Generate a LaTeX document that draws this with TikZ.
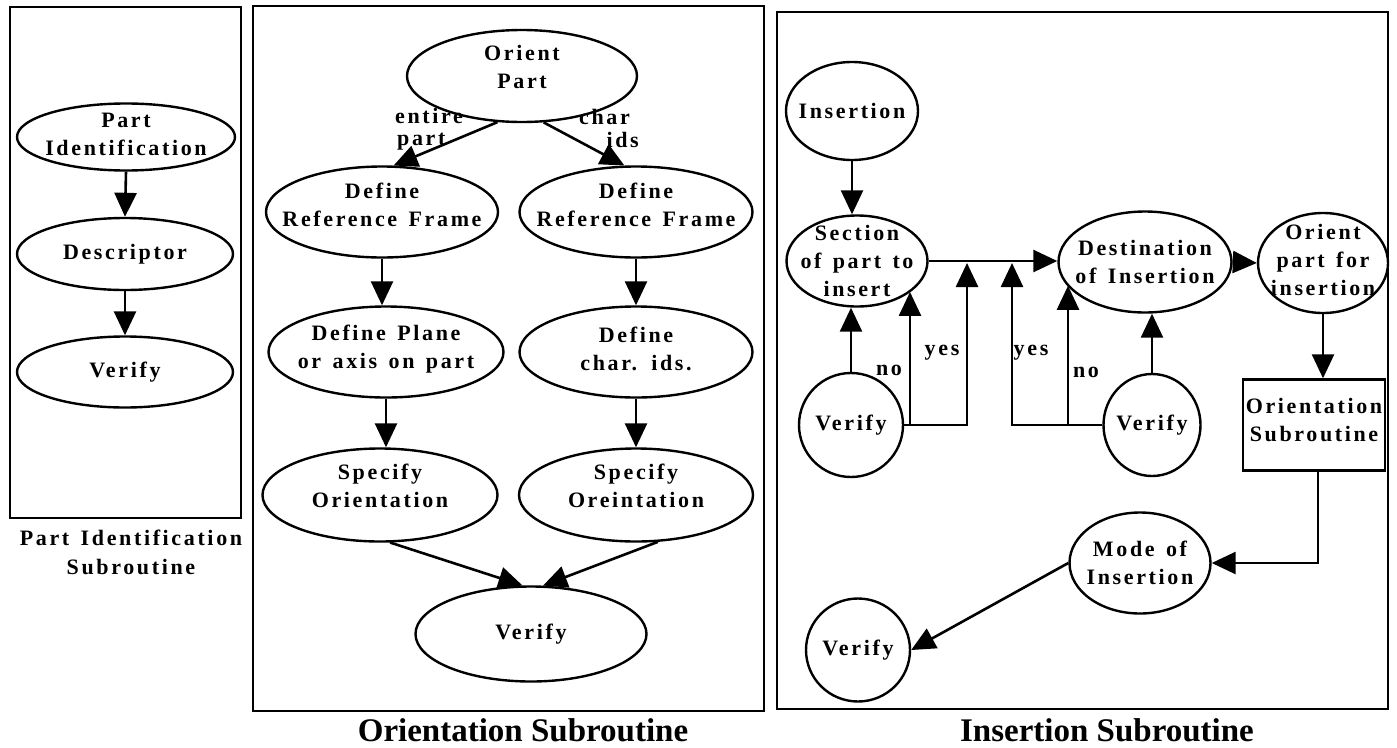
\documentclass[tikz,border=0pt]{standalone}
\usepackage{fontspec}
\setmainfont{Liberation Serif}
\newfontfamily\lblfont[LetterSpace=12,WordSpace=1.4]{Liberation Serif}
\usetikzlibrary{arrows.meta,shapes.geometric}
\tikzset{
  ell/.style={draw, ellipse, line width=2.4pt, inner sep=0pt},
  sbox/.style={draw, rectangle, line width=2.4pt, inner sep=0pt},
  frm/.style={draw, line width=2.6pt},
  txt/.style={align=center, font=\lblfont\bfseries\fontsize{22}{28}\selectfont, inner sep=0pt},
  captxt/.style={align=center, font=\bfseries\fontsize{33}{36}\selectfont, inner sep=0pt},
  arr/.style={line width=2.6pt, -{Triangle[length=24pt,width=22pt]}},
  up/.style={yshift=#1}
}
\begin{document}
\begin{tikzpicture}[x=1pt,y=-1pt]
\useasboundingbox (0,0) rectangle (1397,747);
% frames
\draw[frm] (10,7) rectangle (241,518);
\draw[frm] (253,6) rectangle (764,711);
\draw[frm] (777,12) rectangle (1388,709);
% captions
\node[txt, font=\lblfont\bfseries\fontsize{22}{29}\selectfont] (cap1) at (131,552) {Part Identification\\Subroutine};
\node[captxt] (cap2) at (523,730) {Orientation Subroutine};
\node[captxt] (cap3) at (1107,730) {Insertion Subroutine};

% ---- left panel
\node[ell, minimum width=218pt, minimum height=67pt] (pi) at (126,137) {};
\node[txt, up=3pt] (pit) at (pi) {Part\\Identification};
\node[ell, minimum width=216pt, minimum height=72pt] (de) at (125,254) {};
\node[txt] (det) at (de) {Descriptor};
\node[ell, minimum width=216pt, minimum height=71pt] (v0) at (125,372) {};
\node[txt] (v0t) at (v0) {Verify};
\draw[arr] (pi.south) -- (de.north);
\draw[arr] (de.south) -- (v0.north);

% ---- middle panel
\node[ell, minimum width=230pt, minimum height=92pt] (op) at (522,76) {};
\node[txt, up=9pt] (opt) at (op) {Orient\\Part};
\node[ell, minimum width=232pt, minimum height=91pt] (drl) at (382,212) {};
\node[txt, up=7pt] (drlt) at (drl) {Define\\Reference Frame};
\node[ell, minimum width=233pt, minimum height=91pt] (drr) at (636,212) {};
\node[txt, up=7pt] (drrt) at (drr) {Define\\Reference Frame};
\node[ell, minimum width=235pt, minimum height=91pt] (dpl) at (386,352) {};
\node[txt, up=3pt] (dplt) at (dpl) {Define Plane\\or axis on part};
\node[ell, minimum width=233pt, minimum height=91pt] (dci) at (636,352) {};
\node[txt, up=3pt] (dcit) at (dci) {Define\\char. ids.};
\node[ell, minimum width=235pt, minimum height=93pt] (sol) at (380,495) {};
\node[txt, up=9pt] (solt) at (sol) {Specify\\Orientation};
\node[ell, minimum width=234pt, minimum height=93pt] (sor) at (636,495) {};
\node[txt, up=9pt] (sort) at (sor) {Specify\\Oreintation};
\node[ell, minimum width=231pt, minimum height=95pt] (vo) at (531,634) {};
\node[txt] (vot) at (vo) {Verify};

\draw[arr] (op.242) -- (drl.76);
\draw[arr] (op.295) -- (drr.104);
\node[txt, anchor=west] (lent) at (395,116) {entire};
\node[txt, anchor=west] (lpart) at (397,142) {part};
\node[txt, anchor=east] (lchar) at (630,117) {char};
\node[txt, anchor=east] (lids) at (639,140) {ids};
\draw[arr] (drl.south) -- (drl.south |- dpl.north);
\draw[arr] (drr.south) -- (dci.north);
\draw[arr] (dpl.south) -- (dpl.south |- sol.north);
\draw[arr] (dci.south) -- (sor.north);
\draw[arr] (sol.282) -- (vo.100);
\draw[arr] (sor.295) -- (vo.76);

% ---- right panel
\node[ell, minimum width=132pt, minimum height=98pt] (ins) at (852,111) {};
\node[txt] (inst) at (ins) {Insertion};
\node[ell, minimum width=141pt, minimum height=91pt] (sec) at (857,261) {};
\node[txt] (sect) at (sec) {Section\\of part to\\insert};
\node[ell, minimum width=173pt, minimum height=101pt] (dst) at (1145,262) {};
\node[txt] (dstt) at (dst) {Destination\\of Insertion};
\node[ell, minimum width=130pt, minimum height=100pt] (oi) at (1323,263) {};
\node[txt, up=3pt] (oit) at (oi) {Orient\\part for\\insertion};
\node[sbox, minimum width=142pt, minimum height=91pt] (osr) at (1314,425) {};
\node[txt] (osrt) at (1314,420) {Orientation\\Subroutine};
\node[ell, minimum width=104pt, minimum height=104pt] (v1) at (851,425) {};
\node[txt] (v1t) at (v1) {Verify};
\node[ell, minimum width=97pt, minimum height=102pt] (v2) at (1152,425) {};
\node[txt] (v2t) at (v2) {Verify};
\node[ell, minimum width=141pt, minimum height=101pt] (mode) at (1140,563) {};
\node[txt] (modet) at (mode) {Mode of\\Insertion};
\node[ell, minimum width=104pt, minimum height=103pt] (v3) at (858,650) {};
\node[txt] (v3t) at (v3) {Verify};

\coordinate (j1) at (967,263);
\coordinate (n1) at (910,425);
\coordinate (j2) at (1012,263);
\coordinate (n2) at (1068,425);

\draw[arr] (ins.south) -- (ins.south |- sec.north);
\draw[arr] (sec.east) -- (sec.east -| dst.west);
\draw[arr] (dst.east) -- (oi.west);
\draw[arr] (oi.south) -- (oi.south |- osr.north);
\draw[arr] ([xshift=4pt]osr.south) |- (mode.east);
\draw[arr] (mode.west) -- (v3.east);
\draw[arr] (v1.north) -- (v1.north |- sec.south);
\draw[arr] (v1.east) -| (j1);
\draw[arr] (n1) -- (n1 |- sec.330);
\draw[arr] (v2.north) -- (v2.north |- dst.south);
\draw[arr] (v2.west) -| (j2);
\draw[arr] (n2) -- (n2 |- dst.197);
\node[txt] (lno1) at (889,370) {no};
\node[txt] (lyes1) at (942,353) {yes};
\node[txt] (lyes2) at (1031,353) {yes};
\node[txt] (lno2) at (1086,372) {no};
\end{tikzpicture}
\end{document}
